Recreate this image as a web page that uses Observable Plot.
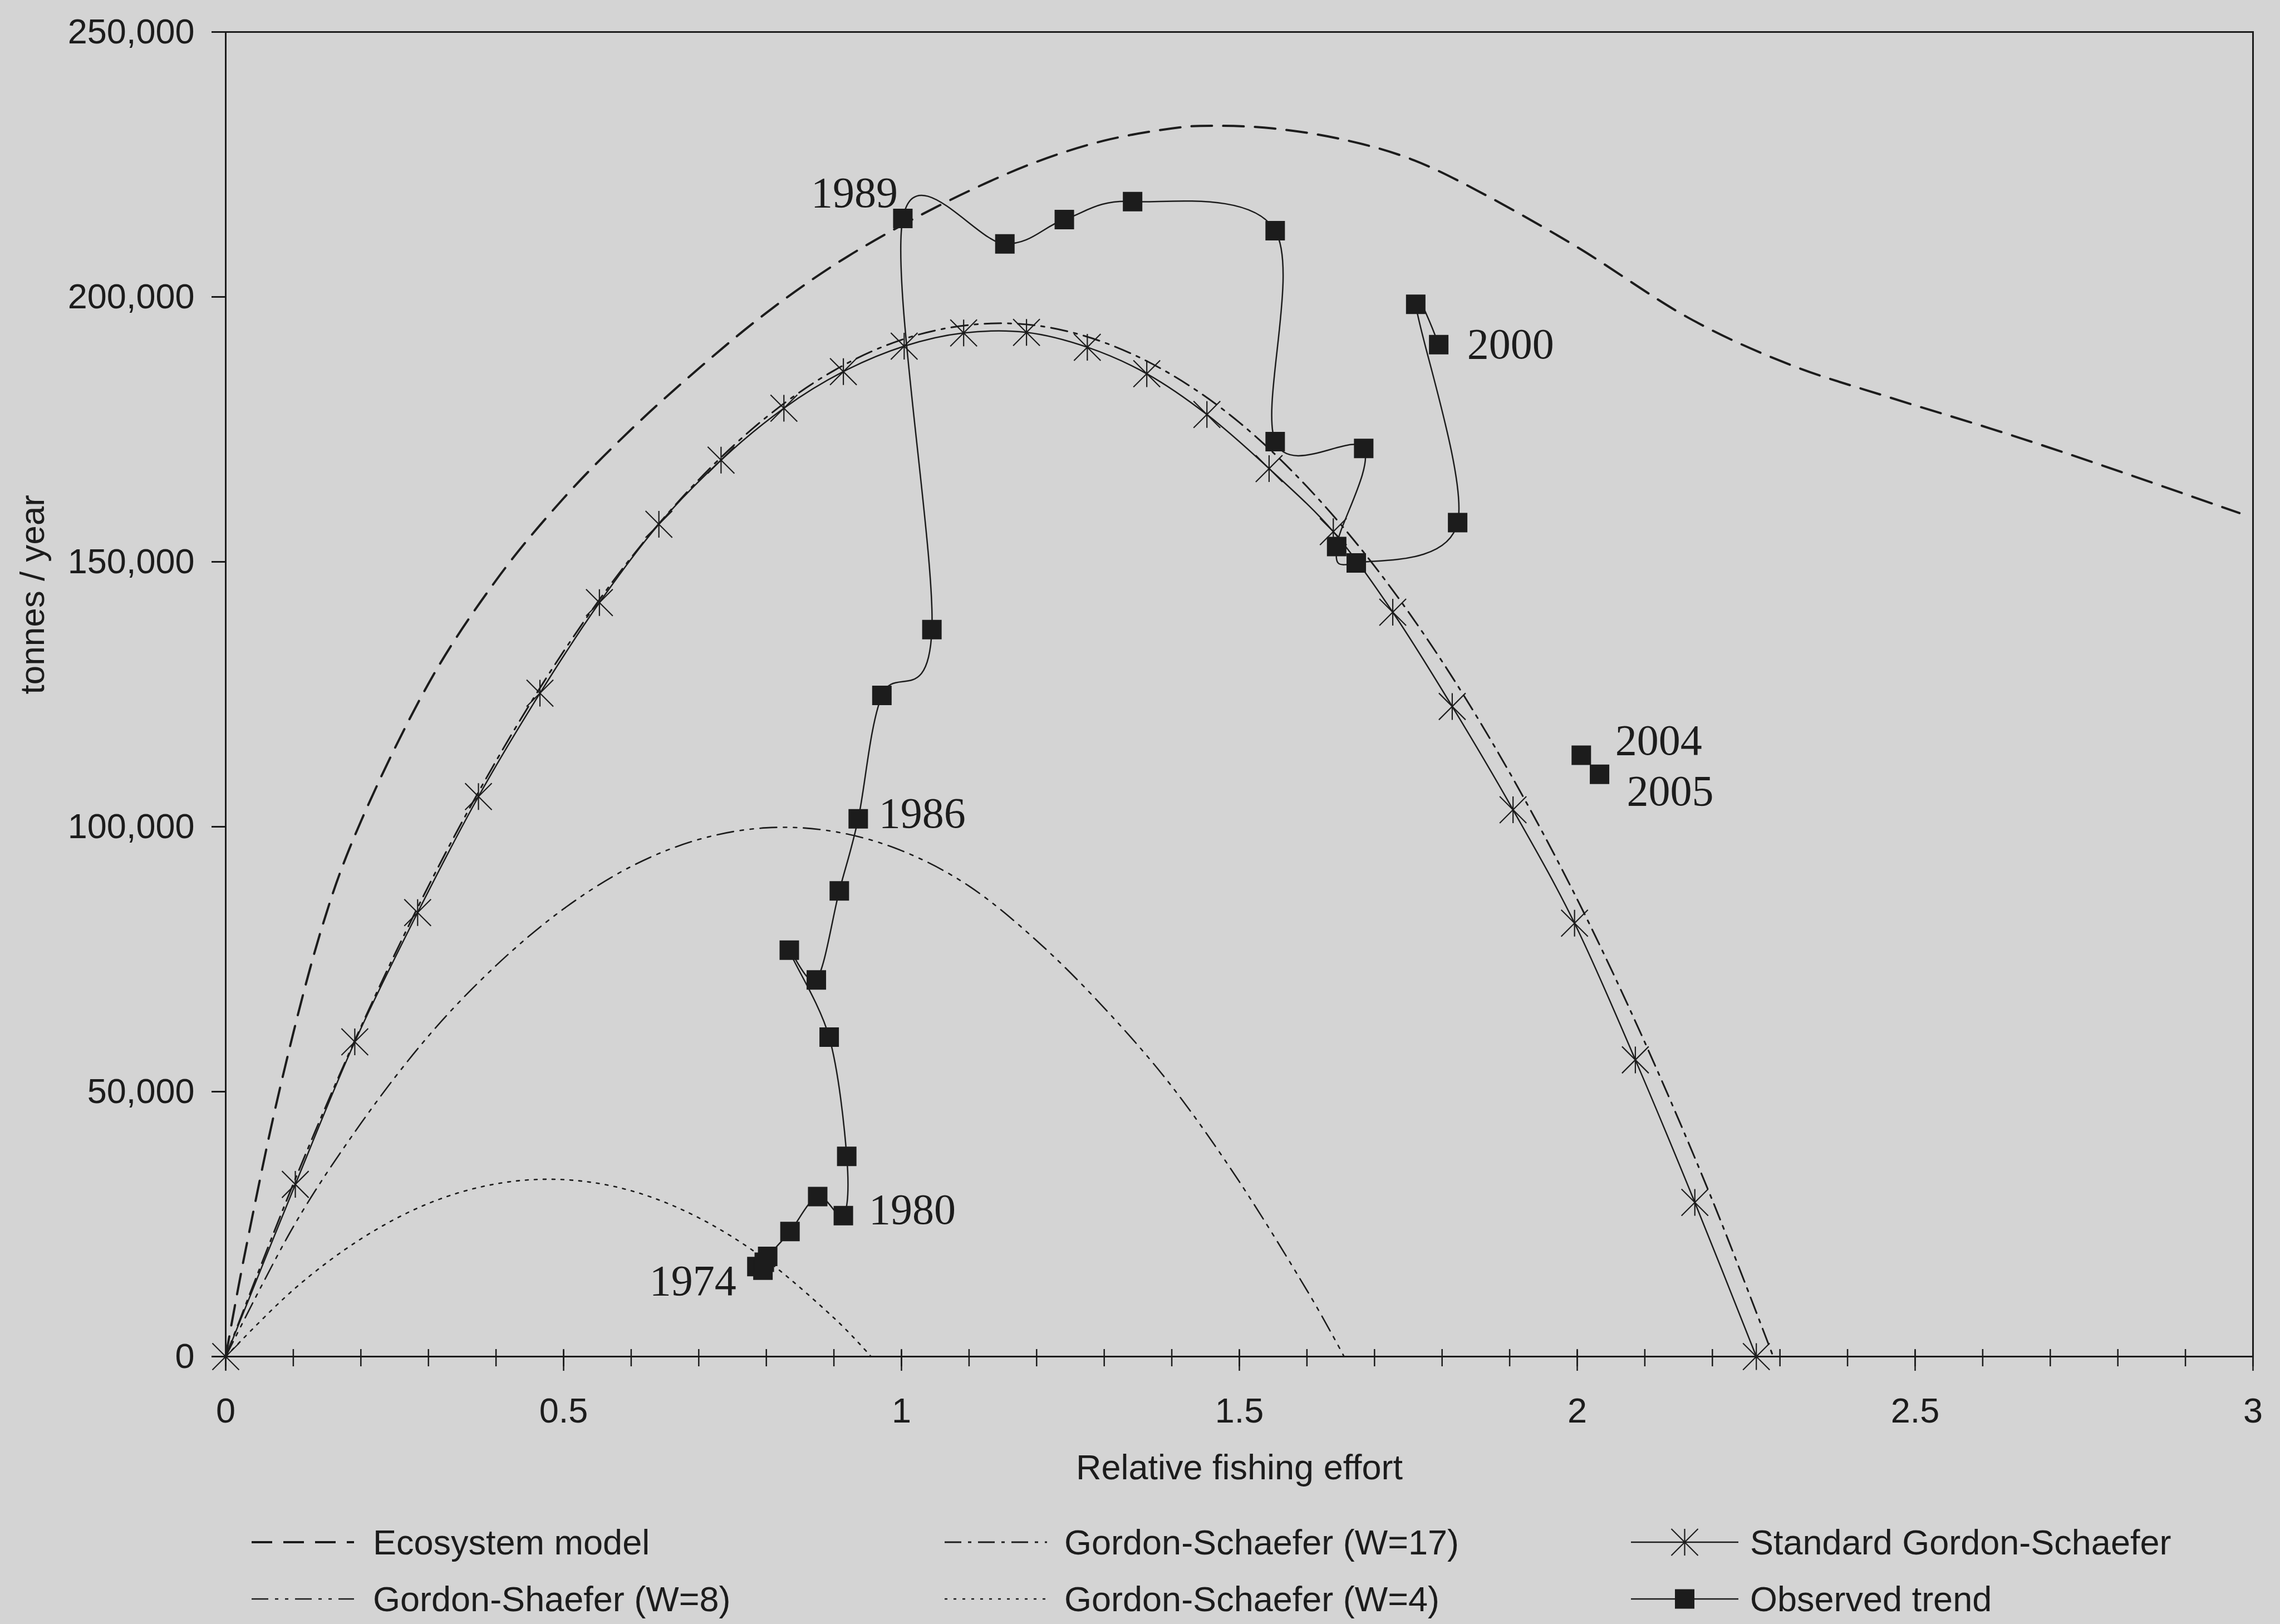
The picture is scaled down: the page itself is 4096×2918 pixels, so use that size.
<!DOCTYPE html>
<html>
<head>
<meta charset="utf-8">
<script src="https://cdn.jsdelivr.net/npm/d3@7"></script>
<script src="https://cdn.jsdelivr.net/npm/@observablehq/plot@0.6"></script>
<style>
  html, body { margin: 0; padding: 0; background: #d4d4d4; }
  #wrap { position: relative; width: 4096px; height: 2918px; overflow: hidden; background: #d4d4d4;
          font-family: "Liberation Sans", Arial, sans-serif; color: #1c1c1c; }
  #wrap > svg { position: absolute; left: 0; top: 0; }
  .leg { position: absolute; height: 90px; display: flex; align-items: center; font-size: 63px; white-space: nowrap; }
  .leg svg { display: block; flex: none; }
</style>
</head>
<body>
<div id="wrap"></div>
<script>
// ---------------- data ----------------
const xMajorTicks = [0, 0.5, 1, 1.5, 2, 2.5, 3];
const xMinorTicks = [0, 0.1, 0.2, 0.3, 0.4, 0.5, 0.6, 0.7, 0.8, 0.9, 1, 1.1, 1.2, 1.3, 1.4, 1.5,
                     1.6, 1.7, 1.8, 1.9, 2, 2.1, 2.2, 2.3, 2.4, 2.5, 2.6, 2.7, 2.8, 2.9, 3];
const yTicks = [0, 50000, 100000, 150000, 200000, 250000];

// Ecosystem model
const ecoEffort = [0, 0.03, 0.08, 0.14, 0.2, 0.3, 0.4, 0.5, 0.6, 0.7, 0.8, 0.9, 1.0, 1.1, 1.2, 1.3, 1.4,
                   1.46, 1.55, 1.65, 1.75, 1.85, 2.0, 2.164, 2.313, 2.463, 2.613, 2.763, 2.98];
const ecoCatch = [0, 20500, 50500, 80000, 101000, 127000, 146500, 162000, 175000, 186500, 197000, 206000,
                  213500, 220000, 225500, 229500, 231800, 232300, 231800, 229800, 226200, 220200, 209400,
                  196100, 187300, 181000, 175100, 168800, 159200];

// Gordon-Schaefer (W=17)
const w17Effort = [0, 0.1, 0.2, 0.3, 0.4, 0.5, 0.6, 0.7, 0.8, 0.9, 1.0, 1.1, 1.2, 1.3, 1.4, 1.5, 1.6,
                   1.7, 1.8, 1.9, 2.0, 2.1, 2.2, 2.29];
const w17Catch = [0, 32600, 62200, 88800, 112400, 133100, 150800, 165500, 177300, 186100, 191900, 194700,
                  194600, 191400, 185300, 176300, 164200, 149200, 131200, 110200, 86300, 59300, 29500, 0];

// Gordon-Shaefer (W=8)
const w8Effort = [0, 0.1, 0.2, 0.3, 0.4, 0.5, 0.6, 0.7, 0.8, 0.9, 1.0, 1.1, 1.2, 1.3, 1.4, 1.5, 1.6, 1.655];
const w8Catch = [0, 24500, 44000, 60500, 73800, 84500, 92500, 97600, 99800, 99100, 95500, 88800,
                 78500, 65800, 51000, 33000, 12500, 0];

// Gordon-Schaefer (W=4)
const w4Effort = [0, 0.1, 0.2, 0.3, 0.4, 0.5, 0.6, 0.7, 0.8, 0.9, 0.955];
const w4Catch = [0, 12600, 22200, 28900, 32600, 33400, 31300, 26200, 18200, 7300, 0];

// Standard Gordon-Schaefer
const stdEffort = [0, 0.103, 0.191, 0.284, 0.374, 0.465, 0.553, 0.641, 0.733, 0.826, 0.914, 1.004, 1.092,
                   1.185, 1.275, 1.363, 1.452, 1.544, 1.639, 1.727, 1.815, 1.905, 1.996, 2.086, 2.174, 2.265];
const stdCatch = [0, 32500, 59400, 83800, 105700, 125200, 142300, 157100, 169200, 179000, 185900, 190700, 193200,
                  193300, 190500, 185500, 177800, 167600, 155700, 140500, 122700, 103200, 81800, 56000, 29100, 0];

// Observed trend
const obsYear = [1974, 1975, 1976, 1977, 1978, 1979, 1980, 1981, 1982, 1983, 1984, 1985, 1986, 1987, 1988,
                 1989, 1990, 1991, 1992, 1993, 1994, 1995, 1996, 1997, 1998, 1999, 2000, 2004, 2005];
const obsEffort = [0.786, 0.795, 0.797, 0.802, 0.835, 0.876, 0.914, 0.919, 0.893, 0.834, 0.874, 0.908, 0.936,
                   0.971, 1.045, 1.002, 1.153, 1.241, 1.342, 1.553, 1.553, 1.684, 1.644, 1.673, 1.823, 1.761,
                   1.795, 2.006, 2.033];
const obsCatch = [17000, 16300, 17800, 18900, 23600, 30200, 26600, 37800, 60300, 76700, 71100, 87900, 101500,
                  124800, 137200, 214800, 210000, 214600, 218000, 212500, 172700, 171400, 152900, 149800,
                  157400, 198600, 191000, 113500, 109900];

const legendLabels = ["Ecosystem model", "Gordon-Schaefer (W=17)", "Standard Gordon-Schaefer",
                      "Gordon-Shaefer (W=8)", "Gordon-Schaefer (W=4)", "Observed trend"];

// ---------------- build ----------------
const ink = "#1c1c1c";
const zip = (xs, ys) => xs.map((x, i) => ({x, y: ys[i]}));
const eco = zip(ecoEffort, ecoCatch);
const w17 = zip(w17Effort, w17Catch);
const w8 = zip(w8Effort, w8Catch);
const w4 = zip(w4Effort, w4Catch);
const std = zip(stdEffort, stdCatch);
const obs = obsYear.map((year, i) => ({year, x: obsEffort[i], y: obsCatch[i]}));
const obsLine = obs.filter(d => d.year <= 2000);

const dash = {
  eco: "37,20",
  w17: "30,12,6,12",
  w8: "30,12,6,12,6,12",
  w4: "5,11"
};

// asterisk marker: vertical bar plus an X
const asteriskX = {
  draw(ctx, size) {
    const s = Math.sqrt(size / Math.PI);
    ctx.moveTo(0, -s); ctx.lineTo(0, s);
    ctx.moveTo(-s, -s); ctx.lineTo(s, s);
    ctx.moveTo(-s, s); ctx.lineTo(s, -s);
  }
};

const fmt = d3.format(",");
const serif = "'Liberation Serif', 'Times New Roman', serif";
function yearLabel(year, opts) {
  return Plot.text(obs.filter(d => d.year === year), {
    x: "x", y: "y", text: d => String(d.year), fontFamily: serif, fontSize: 78,
    fill: ink, lineAnchor: "middle", ...opts
  });
}

const chart = Plot.plot({
  width: 4096,
  height: 2700,
  marginLeft: 405,
  marginRight: 49,
  marginTop: 57,
  marginBottom: 263,
  style: {background: "transparent", fontFamily: "'Liberation Sans', Arial, sans-serif", fontSize: "63px", color: ink},
  x: {domain: [0, 3], axis: null},
  y: {domain: [0, 250000], axis: null},
  marks: [
    // axes
    Plot.axisY({ticks: yTicks, tickSize: 25, tickPadding: 31, tickFormat: d => fmt(d), label: null, strokeWidth: 3, fontSize: 63}),
    Plot.axisX({ticks: xMinorTicks, tickSize: 31, dy: -13, fill: "none", label: null, strokeWidth: 2.5}),
    Plot.axisX({ticks: xMajorTicks, tickSize: 37, dy: -11, fill: "none", label: null, strokeWidth: 2.5}),
    Plot.axisX({ticks: xMajorTicks, tickSize: 0, tickPadding: 74, tickFormat: d => String(d), label: null, fontSize: 63}),
    Plot.text(["Relative fishing effort"], {text: d => d, frameAnchor: "bottom", dy: 200, lineAnchor: "middle", fontSize: 63, fill: ink}),
    Plot.text(["tonnes / year"], {text: d => d, frameAnchor: "left", rotate: -90, dx: -346, lineAnchor: "middle", fontSize: 62, fill: ink}),

    // model curves
    Plot.line(w4, {x: "x", y: "y", curve: "cardinal", stroke: ink, strokeWidth: 2.6, strokeDasharray: dash.w4}),
    Plot.line(w8, {x: "x", y: "y", curve: "cardinal", stroke: ink, strokeWidth: 2.6, strokeDasharray: dash.w8}),
    Plot.line(w17, {x: "x", y: "y", curve: "cardinal", stroke: ink, strokeWidth: 3, strokeDasharray: dash.w17}),
    Plot.line(eco, {x: "x", y: "y", curve: "cardinal", stroke: ink, strokeWidth: 4, strokeDasharray: dash.eco}),
    Plot.line(std, {x: "x", y: "y", curve: "cardinal", stroke: ink, strokeWidth: 2.5}),
    Plot.dot(std, {x: "x", y: "y", symbol: asteriskX, r: 24, fill: "none", stroke: ink, strokeWidth: 2.2}),

    // observed
    Plot.line(obsLine, {x: "x", y: "y", curve: "cardinal", stroke: ink, strokeWidth: 2.5}),
    Plot.dot(obs, {x: "x", y: "y", symbol: "square", r: 19.75, fill: ink, stroke: "none"}),

    // year labels
    yearLabel(1974, {textAnchor: "end", dx: -37, dy: 26}),
    yearLabel(1980, {textAnchor: "start", dx: 46, dy: -10}),
    yearLabel(1986, {textAnchor: "start", dx: 37, dy: -9}),
    yearLabel(1989, {textAnchor: "end", dx: -9, dy: -46}),
    yearLabel(2000, {textAnchor: "start", dx: 51, dy: 0}),
    yearLabel(2004, {textAnchor: "start", dx: 61, dy: -26}),
    yearLabel(2005, {textAnchor: "start", dx: 49, dy: 31}),

    // frame on top
    Plot.frame({stroke: ink, strokeWidth: 3})
  ]
});

const wrap = document.getElementById("wrap");
wrap.appendChild(chart);

// ---------------- legend (below the chart) ----------------
const rowsTop = [2726, 2828];
const legendItems = [
  {label: legendLabels[0], left: 452, textLeft: 670, row: 0, kind: "eco"},
  {label: legendLabels[1], left: 1697, textLeft: 1912, row: 0, kind: "w17"},
  {label: legendLabels[2], left: 2930, textLeft: 3144, row: 0, kind: "std"},
  {label: legendLabels[3], left: 452, textLeft: 670, row: 1, kind: "w8"},
  {label: legendLabels[4], left: 1697, textLeft: 1912, row: 1, kind: "w4"},
  {label: legendLabels[5], left: 2930, textLeft: 3144, row: 1, kind: "obs"}
];

for (const item of legendItems) {
  const div = document.createElement("div");
  div.className = "leg";
  div.style.left = item.left + "px";
  div.style.top = rowsTop[item.row] + "px";
  const w = item.kind === "std" || item.kind === "obs" ? 193 : 184;
  const gap = item.textLeft - item.left - w;
  const svg = d3.create("svg").attr("width", w).attr("height", 60);
  const line = svg.append("line").attr("x1", 0).attr("x2", w).attr("y1", 30).attr("y2", 30)
    .attr("stroke", ink);
  if (item.kind === "eco") line.attr("stroke-width", 4).attr("stroke-dasharray", dash.eco);
  else if (item.kind === "w17") line.attr("stroke-width", 3).attr("stroke-dasharray", dash.w17);
  else if (item.kind === "w8") line.attr("stroke-width", 2.6).attr("stroke-dasharray", dash.w8);
  else if (item.kind === "w4") line.attr("stroke-width", 2.6).attr("stroke-dasharray", dash.w4);
  else line.attr("stroke-width", 2.5);
  if (item.kind === "std") {
    const s = 24, cx = w / 2, cy = 30;
    svg.append("path")
      .attr("d", `M${cx},${cy - s}L${cx},${cy + s}M${cx - s},${cy - s}L${cx + s},${cy + s}M${cx - s},${cy + s}L${cx + s},${cy - s}`)
      .attr("stroke", ink).attr("stroke-width", 2.2).attr("fill", "none");
  }
  if (item.kind === "obs") {
    svg.append("rect").attr("x", w / 2 - 17.5).attr("y", 30 - 17.5).attr("width", 35).attr("height", 35).attr("fill", ink);
  }
  const svgNode = svg.node();
  svgNode.style.marginRight = gap + "px";
  div.appendChild(svgNode);
  const span = document.createElement("span");
  span.textContent = item.label;
  div.appendChild(span);
  wrap.appendChild(div);
}
</script>
</body>
</html>
